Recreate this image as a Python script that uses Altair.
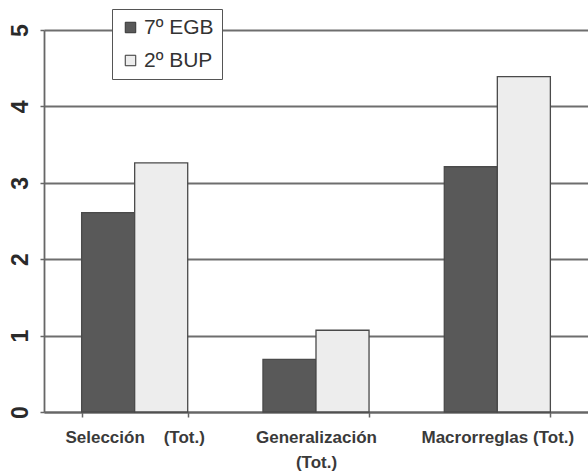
import altair as alt
import pandas as pd

# Categories (x axis), the two groups, and mean scores per group
categories = ["Selección\u00a0\u00a0\u00a0 (Tot.)", "Generalización\n(Tot.)", "Macrorreglas (Tot.)"]
series = ["7º EGB", "2º BUP"]
egb_values = [2.61, 0.69, 3.21]
bup_values = [3.26, 1.07, 4.39]
y_ticks = [0, 1, 2, 3, 4, 5]

rows = []
for cat, a, b in zip(categories, egb_values, bup_values):
    rows.append({"categoria": cat, "grupo": series[0], "valor": a})
    rows.append({"categoria": cat, "grupo": series[1], "valor": b})
df = pd.DataFrame(rows)

bars = alt.Chart(df).mark_bar(stroke="#4a4a4a", strokeWidth=1.3).encode(
    x=alt.X(
        "categoria:N",
        sort=categories,
        title=None,
        scale=alt.Scale(paddingInner=0.415, paddingOuter=0.2075),
        axis=alt.Axis(
            labelAngle=0,
            labelExpr="split(datum.label, '\\n')",
            labelFont="Liberation Sans",
            labelFontSize=17,
            labelFontWeight="bold",
            labelColor="#3a3a3a",
            labelPadding=12,
            labelBaseline="top",
            labelLineHeight=25,
            tickBand="extent",
            tickSize=5,
            tickWidth=1.5,
            tickColor="#666666",
            domainColor="#666666",
            domainWidth=1.8,
            grid=False,
        ),
    ),
    xOffset=alt.XOffset("grupo:N", sort=series),
    y=alt.Y(
        "valor:Q",
        title=None,
        scale=alt.Scale(domain=[0, 5]),
        axis=alt.Axis(
            values=y_ticks,
            labelAngle=270,
            labelAlign="center",
            labelBaseline="alphabetic",
            labelFont="Liberation Sans",
            labelFontSize=23,
            labelFontWeight="bold",
            labelColor="#2a2a2a",
            labelPadding=13,
            tickSize=4,
            tickWidth=1.5,
            tickColor="#666666",
            domainColor="#666666",
            domainWidth=1.8,
            gridColor="#6e6e6e",
            gridWidth=1.8,
        ),
    ),
    color=alt.Color(
        "grupo:N",
        sort=series,
        scale=alt.Scale(domain=series, range=["#595959", "#ededed"]),
        legend=alt.Legend(
            title=None,
            orient="none",
            legendX=68,
            legendY=-21,
            fillColor="white",
            strokeColor="#555555",
            padding=8,
            symbolType="square",
            symbolSize=110,
            symbolStrokeColor="#333333",
            symbolStrokeWidth=1,
            labelFont="Liberation Sans",
            labelFontSize=21,
            labelColor="#333333",
            labelOffset=3,
            rowPadding=11,
        ),
    ),
)

chart = bars.properties(
    width=544,
    height=382,
    autosize=alt.AutoSizeParams(type="none"),
    padding={"left": 44, "top": 30, "right": 0, "bottom": 60},
    background="white",
).configure_view(stroke=None)

chart.save("out.html", embed_options={"renderer": "svg", "actions": False})
